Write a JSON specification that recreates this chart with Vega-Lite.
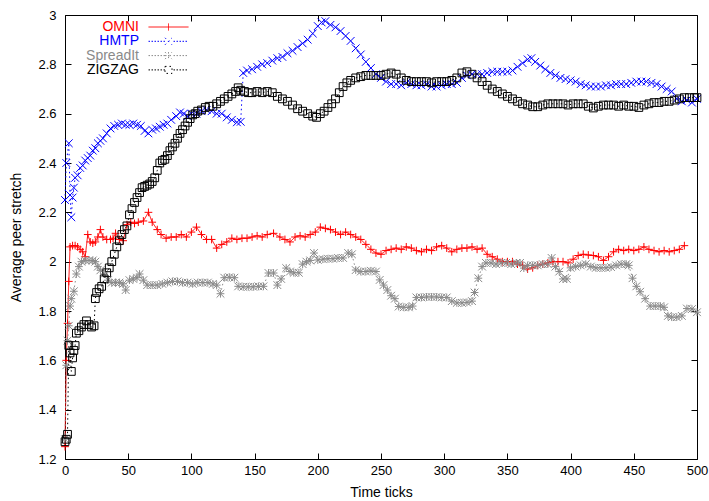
{
  "$schema": "https://vega.github.io/schema/vega-lite/v6.json",
  "width": 632,
  "height": 444,
  "autosize": {"type": "none"},
  "padding": {"left": 65, "top": 15, "right": 12, "bottom": 42},
  "config": {
    "font": "Liberation Sans",
    "view": {"stroke": "black", "strokeWidth": 1},
    "axis": {
      "grid": false,
      "domain": false,
      "tickColor": "black",
      "tickSize": -6,
      "tickWidth": 1,
      "labelColor": "black",
      "labelFont": "Liberation Sans",
      "labelFontSize": 13,
      "titleFont": "Liberation Sans",
      "titleFontSize": 14,
      "titleFontWeight": "normal",
      "titleColor": "black"
    },
    "legend": {
      "orient": "none",
      "legendX": 60,
      "legendY": 5,
      "padding": 0,
      "symbolSize": 64,
      "symbolStrokeWidth": 1,
      "symbolOffset": 36.5,
      "rowPadding": 0.3,
      "labelOffset": -36.5,
      "labelAlign": "right",
      "labelBaseline": "middle",
      "labelFont": "Liberation Sans",
      "labelFontSize": 14,
      "labelLimit": 200
    }
  },
  "data": {
    "values": [
      {"s":"OMNI","t":0,"v":1.25},{"s":"OMNI","t":1,"v":1.6},{"s":"OMNI","t":2,"v":1.75},{"s":"OMNI","t":3,"v":1.92},{"s":"OMNI","t":4,"v":2.06},{"s":"OMNI","t":6,"v":2.065},{"s":"OMNI","t":8,"v":2.065},{"s":"OMNI","t":10,"v":2.06},{"s":"OMNI","t":12,"v":2.05},{"s":"OMNI","t":14,"v":2.04},{"s":"OMNI","t":16,"v":2.02},{"s":"OMNI","t":18,"v":2.11},{"s":"OMNI","t":20,"v":2.08},{"s":"OMNI","t":22,"v":2.075},{"s":"OMNI","t":24,"v":2.08},{"s":"OMNI","t":26,"v":2.1},{"s":"OMNI","t":28,"v":2.13},{"s":"OMNI","t":30,"v":2.1},{"s":"OMNI","t":33,"v":2.09},{"s":"OMNI","t":36,"v":2.09},{"s":"OMNI","t":38,"v":2.095},{"s":"OMNI","t":40,"v":2.115},{"s":"OMNI","t":43,"v":2.09},{"s":"OMNI","t":46,"v":2.085},{"s":"OMNI","t":49,"v":2.15},{"s":"OMNI","t":52,"v":2.16},{"s":"OMNI","t":55,"v":2.155},{"s":"OMNI","t":58,"v":2.16},{"s":"OMNI","t":62,"v":2.165},{"s":"OMNI","t":66,"v":2.2},{"s":"OMNI","t":69,"v":2.16},{"s":"OMNI","t":73,"v":2.13},{"s":"OMNI","t":76,"v":2.11},{"s":"OMNI","t":80,"v":2.095},{"s":"OMNI","t":84,"v":2.1},{"s":"OMNI","t":88,"v":2.1},{"s":"OMNI","t":92,"v":2.11},{"s":"OMNI","t":96,"v":2.1},{"s":"OMNI","t":100,"v":2.12},{"s":"OMNI","t":104,"v":2.14},{"s":"OMNI","t":108,"v":2.11},{"s":"OMNI","t":112,"v":2.09},{"s":"OMNI","t":116,"v":2.09},{"s":"OMNI","t":120,"v":2.055},{"s":"OMNI","t":124,"v":2.07},{"s":"OMNI","t":128,"v":2.08},{"s":"OMNI","t":132,"v":2.095},{"s":"OMNI","t":136,"v":2.09},{"s":"OMNI","t":140,"v":2.095},{"s":"OMNI","t":144,"v":2.095},{"s":"OMNI","t":148,"v":2.1},{"s":"OMNI","t":152,"v":2.105},{"s":"OMNI","t":156,"v":2.1},{"s":"OMNI","t":160,"v":2.11},{"s":"OMNI","t":165,"v":2.115},{"s":"OMNI","t":170,"v":2.1},{"s":"OMNI","t":174,"v":2.09},{"s":"OMNI","t":178,"v":2.08},{"s":"OMNI","t":182,"v":2.1},{"s":"OMNI","t":186,"v":2.105},{"s":"OMNI","t":190,"v":2.1},{"s":"OMNI","t":194,"v":2.11},{"s":"OMNI","t":198,"v":2.12},{"s":"OMNI","t":202,"v":2.14},{"s":"OMNI","t":206,"v":2.135},{"s":"OMNI","t":210,"v":2.13},{"s":"OMNI","t":214,"v":2.12},{"s":"OMNI","t":218,"v":2.11},{"s":"OMNI","t":222,"v":2.12},{"s":"OMNI","t":226,"v":2.11},{"s":"OMNI","t":230,"v":2.1},{"s":"OMNI","t":234,"v":2.09},{"s":"OMNI","t":238,"v":2.07},{"s":"OMNI","t":242,"v":2.05},{"s":"OMNI","t":246,"v":2.035},{"s":"OMNI","t":250,"v":2.03},{"s":"OMNI","t":254,"v":2.045},{"s":"OMNI","t":258,"v":2.05},{"s":"OMNI","t":262,"v":2.055},{"s":"OMNI","t":266,"v":2.05},{"s":"OMNI","t":270,"v":2.06},{"s":"OMNI","t":274,"v":2.055},{"s":"OMNI","t":278,"v":2.045},{"s":"OMNI","t":282,"v":2.04},{"s":"OMNI","t":286,"v":2.05},{"s":"OMNI","t":290,"v":2.045},{"s":"OMNI","t":294,"v":2.06},{"s":"OMNI","t":298,"v":2.065},{"s":"OMNI","t":302,"v":2.055},{"s":"OMNI","t":306,"v":2.04},{"s":"OMNI","t":310,"v":2.05},{"s":"OMNI","t":314,"v":2.055},{"s":"OMNI","t":318,"v":2.055},{"s":"OMNI","t":322,"v":2.06},{"s":"OMNI","t":326,"v":2.05},{"s":"OMNI","t":330,"v":2.055},{"s":"OMNI","t":334,"v":2.03},{"s":"OMNI","t":338,"v":2.02},{"s":"OMNI","t":342,"v":2.01},{"s":"OMNI","t":346,"v":2.0},{"s":"OMNI","t":350,"v":2.0},{"s":"OMNI","t":354,"v":2.0},{"s":"OMNI","t":358,"v":1.99},{"s":"OMNI","t":362,"v":1.985},{"s":"OMNI","t":366,"v":1.97},{"s":"OMNI","t":370,"v":1.975},{"s":"OMNI","t":374,"v":1.985},{"s":"OMNI","t":378,"v":1.99},{"s":"OMNI","t":382,"v":1.995},{"s":"OMNI","t":386,"v":2.0},{"s":"OMNI","t":390,"v":2.0},{"s":"OMNI","t":394,"v":2.0},{"s":"OMNI","t":398,"v":1.995},{"s":"OMNI","t":402,"v":2.01},{"s":"OMNI","t":406,"v":2.025},{"s":"OMNI","t":410,"v":2.03},{"s":"OMNI","t":414,"v":2.027},{"s":"OMNI","t":418,"v":2.025},{"s":"OMNI","t":422,"v":2.02},{"s":"OMNI","t":426,"v":2.005},{"s":"OMNI","t":430,"v":2.02},{"s":"OMNI","t":434,"v":2.04},{"s":"OMNI","t":438,"v":2.05},{"s":"OMNI","t":442,"v":2.045},{"s":"OMNI","t":446,"v":2.05},{"s":"OMNI","t":450,"v":2.045},{"s":"OMNI","t":454,"v":2.05},{"s":"OMNI","t":458,"v":2.06},{"s":"OMNI","t":462,"v":2.05},{"s":"OMNI","t":466,"v":2.045},{"s":"OMNI","t":470,"v":2.04},{"s":"OMNI","t":474,"v":2.045},{"s":"OMNI","t":478,"v":2.04},{"s":"OMNI","t":482,"v":2.045},{"s":"OMNI","t":486,"v":2.05},{"s":"OMNI","t":490,"v":2.065},
      {"s":"HMTP","t":0,"v":2.25},{"s":"HMTP","t":1,"v":2.4},{"s":"HMTP","t":3,"v":2.48},{"s":"HMTP","t":4,"v":2.27},{"s":"HMTP","t":5,"v":2.18},{"s":"HMTP","t":6,"v":2.26},{"s":"HMTP","t":7,"v":2.3},{"s":"HMTP","t":8,"v":2.34},{"s":"HMTP","t":10,"v":2.35},{"s":"HMTP","t":12,"v":2.38},{"s":"HMTP","t":14,"v":2.39},{"s":"HMTP","t":16,"v":2.41},{"s":"HMTP","t":18,"v":2.42},{"s":"HMTP","t":20,"v":2.43},{"s":"HMTP","t":22,"v":2.45},{"s":"HMTP","t":24,"v":2.46},{"s":"HMTP","t":26,"v":2.48},{"s":"HMTP","t":28,"v":2.49},{"s":"HMTP","t":30,"v":2.5},{"s":"HMTP","t":33,"v":2.52},{"s":"HMTP","t":36,"v":2.54},{"s":"HMTP","t":39,"v":2.55},{"s":"HMTP","t":42,"v":2.555},{"s":"HMTP","t":45,"v":2.56},{"s":"HMTP","t":48,"v":2.555},{"s":"HMTP","t":51,"v":2.555},{"s":"HMTP","t":54,"v":2.56},{"s":"HMTP","t":57,"v":2.555},{"s":"HMTP","t":60,"v":2.55},{"s":"HMTP","t":63,"v":2.53},{"s":"HMTP","t":66,"v":2.52},{"s":"HMTP","t":69,"v":2.535},{"s":"HMTP","t":72,"v":2.54},{"s":"HMTP","t":75,"v":2.547},{"s":"HMTP","t":78,"v":2.555},{"s":"HMTP","t":81,"v":2.56},{"s":"HMTP","t":84,"v":2.575},{"s":"HMTP","t":88,"v":2.59},{"s":"HMTP","t":91,"v":2.605},{"s":"HMTP","t":94,"v":2.6},{"s":"HMTP","t":97,"v":2.59},{"s":"HMTP","t":100,"v":2.6},{"s":"HMTP","t":104,"v":2.6},{"s":"HMTP","t":108,"v":2.61},{"s":"HMTP","t":112,"v":2.615},{"s":"HMTP","t":116,"v":2.61},{"s":"HMTP","t":120,"v":2.6},{"s":"HMTP","t":124,"v":2.6},{"s":"HMTP","t":128,"v":2.585},{"s":"HMTP","t":132,"v":2.575},{"s":"HMTP","t":136,"v":2.565},{"s":"HMTP","t":139,"v":2.567},{"s":"HMTP","t":141,"v":2.765},{"s":"HMTP","t":144,"v":2.775},{"s":"HMTP","t":148,"v":2.78},{"s":"HMTP","t":152,"v":2.79},{"s":"HMTP","t":156,"v":2.8},{"s":"HMTP","t":160,"v":2.805},{"s":"HMTP","t":164,"v":2.815},{"s":"HMTP","t":168,"v":2.825},{"s":"HMTP","t":172,"v":2.83},{"s":"HMTP","t":176,"v":2.845},{"s":"HMTP","t":180,"v":2.855},{"s":"HMTP","t":184,"v":2.87},{"s":"HMTP","t":188,"v":2.885},{"s":"HMTP","t":192,"v":2.9},{"s":"HMTP","t":196,"v":2.925},{"s":"HMTP","t":200,"v":2.955},{"s":"HMTP","t":203,"v":2.97},{"s":"HMTP","t":206,"v":2.975},{"s":"HMTP","t":210,"v":2.96},{"s":"HMTP","t":214,"v":2.95},{"s":"HMTP","t":218,"v":2.935},{"s":"HMTP","t":222,"v":2.915},{"s":"HMTP","t":226,"v":2.895},{"s":"HMTP","t":230,"v":2.865},{"s":"HMTP","t":234,"v":2.84},{"s":"HMTP","t":238,"v":2.81},{"s":"HMTP","t":242,"v":2.785},{"s":"HMTP","t":246,"v":2.76},{"s":"HMTP","t":250,"v":2.745},{"s":"HMTP","t":254,"v":2.73},{"s":"HMTP","t":258,"v":2.72},{"s":"HMTP","t":262,"v":2.72},{"s":"HMTP","t":266,"v":2.715},{"s":"HMTP","t":270,"v":2.725},{"s":"HMTP","t":274,"v":2.72},{"s":"HMTP","t":278,"v":2.715},{"s":"HMTP","t":282,"v":2.715},{"s":"HMTP","t":286,"v":2.72},{"s":"HMTP","t":290,"v":2.71},{"s":"HMTP","t":294,"v":2.71},{"s":"HMTP","t":298,"v":2.715},{"s":"HMTP","t":302,"v":2.72},{"s":"HMTP","t":306,"v":2.72},{"s":"HMTP","t":310,"v":2.725},{"s":"HMTP","t":314,"v":2.745},{"s":"HMTP","t":318,"v":2.755},{"s":"HMTP","t":322,"v":2.76},{"s":"HMTP","t":326,"v":2.76},{"s":"HMTP","t":330,"v":2.76},{"s":"HMTP","t":334,"v":2.765},{"s":"HMTP","t":338,"v":2.77},{"s":"HMTP","t":342,"v":2.77},{"s":"HMTP","t":346,"v":2.77},{"s":"HMTP","t":350,"v":2.77},{"s":"HMTP","t":354,"v":2.775},{"s":"HMTP","t":358,"v":2.79},{"s":"HMTP","t":362,"v":2.805},{"s":"HMTP","t":366,"v":2.82},{"s":"HMTP","t":369,"v":2.825},{"s":"HMTP","t":372,"v":2.81},{"s":"HMTP","t":376,"v":2.795},{"s":"HMTP","t":380,"v":2.78},{"s":"HMTP","t":384,"v":2.765},{"s":"HMTP","t":388,"v":2.755},{"s":"HMTP","t":392,"v":2.745},{"s":"HMTP","t":396,"v":2.74},{"s":"HMTP","t":400,"v":2.735},{"s":"HMTP","t":404,"v":2.73},{"s":"HMTP","t":408,"v":2.72},{"s":"HMTP","t":412,"v":2.715},{"s":"HMTP","t":416,"v":2.71},{"s":"HMTP","t":420,"v":2.71},{"s":"HMTP","t":424,"v":2.71},{"s":"HMTP","t":428,"v":2.715},{"s":"HMTP","t":432,"v":2.715},{"s":"HMTP","t":436,"v":2.72},{"s":"HMTP","t":440,"v":2.72},{"s":"HMTP","t":444,"v":2.72},{"s":"HMTP","t":448,"v":2.725},{"s":"HMTP","t":452,"v":2.73},{"s":"HMTP","t":456,"v":2.73},{"s":"HMTP","t":460,"v":2.73},{"s":"HMTP","t":464,"v":2.725},{"s":"HMTP","t":468,"v":2.72},{"s":"HMTP","t":472,"v":2.71},{"s":"HMTP","t":476,"v":2.7},{"s":"HMTP","t":480,"v":2.69},{"s":"HMTP","t":484,"v":2.66},{"s":"HMTP","t":488,"v":2.65},{"s":"HMTP","t":492,"v":2.655},{"s":"HMTP","t":496,"v":2.645},{"s":"HMTP","t":500,"v":2.66},
      {"s":"SpreadIt","t":0,"v":1.28},{"s":"SpreadIt","t":1,"v":1.58},{"s":"SpreadIt","t":2,"v":1.68},{"s":"SpreadIt","t":3,"v":1.74},{"s":"SpreadIt","t":4,"v":1.82},{"s":"SpreadIt","t":5,"v":1.85},{"s":"SpreadIt","t":7,"v":1.88},{"s":"SpreadIt","t":9,"v":1.95},{"s":"SpreadIt","t":11,"v":1.98},{"s":"SpreadIt","t":13,"v":2.0},{"s":"SpreadIt","t":16,"v":2.005},{"s":"SpreadIt","t":19,"v":2.005},{"s":"SpreadIt","t":22,"v":2.005},{"s":"SpreadIt","t":24,"v":2.0},{"s":"SpreadIt","t":26,"v":1.98},{"s":"SpreadIt","t":28,"v":1.965},{"s":"SpreadIt","t":31,"v":1.95},{"s":"SpreadIt","t":34,"v":1.925},{"s":"SpreadIt","t":37,"v":1.915},{"s":"SpreadIt","t":40,"v":1.915},{"s":"SpreadIt","t":43,"v":1.915},{"s":"SpreadIt","t":46,"v":1.91},{"s":"SpreadIt","t":48,"v":1.885},{"s":"SpreadIt","t":51,"v":1.925},{"s":"SpreadIt","t":54,"v":1.93},{"s":"SpreadIt","t":57,"v":1.935},{"s":"SpreadIt","t":59,"v":1.95},{"s":"SpreadIt","t":62,"v":1.925},{"s":"SpreadIt","t":65,"v":1.905},{"s":"SpreadIt","t":69,"v":1.905},{"s":"SpreadIt","t":73,"v":1.905},{"s":"SpreadIt","t":77,"v":1.91},{"s":"SpreadIt","t":81,"v":1.915},{"s":"SpreadIt","t":85,"v":1.92},{"s":"SpreadIt","t":89,"v":1.92},{"s":"SpreadIt","t":93,"v":1.915},{"s":"SpreadIt","t":97,"v":1.915},{"s":"SpreadIt","t":101,"v":1.91},{"s":"SpreadIt","t":105,"v":1.915},{"s":"SpreadIt","t":109,"v":1.915},{"s":"SpreadIt","t":113,"v":1.915},{"s":"SpreadIt","t":117,"v":1.91},{"s":"SpreadIt","t":120,"v":1.905},{"s":"SpreadIt","t":123,"v":1.87},{"s":"SpreadIt","t":126,"v":1.935},{"s":"SpreadIt","t":130,"v":1.937},{"s":"SpreadIt","t":134,"v":1.935},{"s":"SpreadIt","t":137,"v":1.9},{"s":"SpreadIt","t":141,"v":1.898},{"s":"SpreadIt","t":145,"v":1.898},{"s":"SpreadIt","t":149,"v":1.898},{"s":"SpreadIt","t":153,"v":1.9},{"s":"SpreadIt","t":157,"v":1.9},{"s":"SpreadIt","t":161,"v":1.954},{"s":"SpreadIt","t":165,"v":1.954},{"s":"SpreadIt","t":168,"v":1.905},{"s":"SpreadIt","t":171,"v":1.93},{"s":"SpreadIt","t":175,"v":1.974},{"s":"SpreadIt","t":178,"v":1.96},{"s":"SpreadIt","t":181,"v":1.955},{"s":"SpreadIt","t":185,"v":1.955},{"s":"SpreadIt","t":188,"v":1.99},{"s":"SpreadIt","t":191,"v":2.0},{"s":"SpreadIt","t":194,"v":2.005},{"s":"SpreadIt","t":197,"v":2.035},{"s":"SpreadIt","t":200,"v":2.007},{"s":"SpreadIt","t":204,"v":2.01},{"s":"SpreadIt","t":208,"v":2.012},{"s":"SpreadIt","t":212,"v":2.012},{"s":"SpreadIt","t":216,"v":2.015},{"s":"SpreadIt","t":220,"v":2.015},{"s":"SpreadIt","t":224,"v":2.035},{"s":"SpreadIt","t":227,"v":2.03},{"s":"SpreadIt","t":230,"v":1.966},{"s":"SpreadIt","t":234,"v":1.96},{"s":"SpreadIt","t":238,"v":1.96},{"s":"SpreadIt","t":242,"v":1.963},{"s":"SpreadIt","t":246,"v":1.96},{"s":"SpreadIt","t":249,"v":1.926},{"s":"SpreadIt","t":252,"v":1.905},{"s":"SpreadIt","t":255,"v":1.885},{"s":"SpreadIt","t":258,"v":1.862},{"s":"SpreadIt","t":261,"v":1.85},{"s":"SpreadIt","t":264,"v":1.818},{"s":"SpreadIt","t":268,"v":1.815},{"s":"SpreadIt","t":272,"v":1.815},{"s":"SpreadIt","t":275,"v":1.82},{"s":"SpreadIt","t":278,"v":1.855},{"s":"SpreadIt","t":282,"v":1.855},{"s":"SpreadIt","t":286,"v":1.857},{"s":"SpreadIt","t":290,"v":1.857},{"s":"SpreadIt","t":294,"v":1.857},{"s":"SpreadIt","t":298,"v":1.855},{"s":"SpreadIt","t":302,"v":1.855},{"s":"SpreadIt","t":306,"v":1.84},{"s":"SpreadIt","t":310,"v":1.833},{"s":"SpreadIt","t":314,"v":1.833},{"s":"SpreadIt","t":318,"v":1.835},{"s":"SpreadIt","t":322,"v":1.84},{"s":"SpreadIt","t":324,"v":1.875},{"s":"SpreadIt","t":327,"v":1.933},{"s":"SpreadIt","t":330,"v":1.98},{"s":"SpreadIt","t":333,"v":1.995},{"s":"SpreadIt","t":337,"v":1.995},{"s":"SpreadIt","t":341,"v":1.99},{"s":"SpreadIt","t":345,"v":1.995},{"s":"SpreadIt","t":349,"v":1.995},{"s":"SpreadIt","t":353,"v":1.99},{"s":"SpreadIt","t":357,"v":1.995},{"s":"SpreadIt","t":360,"v":1.995},{"s":"SpreadIt","t":363,"v":1.974},{"s":"SpreadIt","t":366,"v":1.985},{"s":"SpreadIt","t":370,"v":1.985},{"s":"SpreadIt","t":374,"v":1.985},{"s":"SpreadIt","t":378,"v":1.99},{"s":"SpreadIt","t":382,"v":1.99},{"s":"SpreadIt","t":385,"v":2.015},{"s":"SpreadIt","t":388,"v":1.98},{"s":"SpreadIt","t":391,"v":1.96},{"s":"SpreadIt","t":394,"v":1.93},{"s":"SpreadIt","t":397,"v":1.93},{"s":"SpreadIt","t":400,"v":1.975},{"s":"SpreadIt","t":404,"v":1.98},{"s":"SpreadIt","t":408,"v":1.985},{"s":"SpreadIt","t":412,"v":1.99},{"s":"SpreadIt","t":416,"v":1.98},{"s":"SpreadIt","t":420,"v":1.975},{"s":"SpreadIt","t":424,"v":1.975},{"s":"SpreadIt","t":428,"v":1.975},{"s":"SpreadIt","t":432,"v":1.978},{"s":"SpreadIt","t":436,"v":1.985},{"s":"SpreadIt","t":440,"v":1.99},{"s":"SpreadIt","t":444,"v":1.99},{"s":"SpreadIt","t":446,"v":1.985},{"s":"SpreadIt","t":449,"v":1.933},{"s":"SpreadIt","t":452,"v":1.9},{"s":"SpreadIt","t":455,"v":1.878},{"s":"SpreadIt","t":459,"v":1.85},{"s":"SpreadIt","t":463,"v":1.82},{"s":"SpreadIt","t":467,"v":1.82},{"s":"SpreadIt","t":471,"v":1.82},{"s":"SpreadIt","t":474,"v":1.815},{"s":"SpreadIt","t":477,"v":1.78},{"s":"SpreadIt","t":480,"v":1.775},{"s":"SpreadIt","t":484,"v":1.775},{"s":"SpreadIt","t":488,"v":1.78},{"s":"SpreadIt","t":492,"v":1.81},{"s":"SpreadIt","t":496,"v":1.808},{"s":"SpreadIt","t":500,"v":1.795},
      {"s":"ZIGZAG","t":0,"v":1.27},{"s":"ZIGZAG","t":1,"v":1.28},{"s":"ZIGZAG","t":2,"v":1.3},{"s":"ZIGZAG","t":3,"v":1.66},{"s":"ZIGZAG","t":4,"v":1.63},{"s":"ZIGZAG","t":5,"v":1.555},{"s":"ZIGZAG","t":6,"v":1.61},{"s":"ZIGZAG","t":7,"v":1.64},{"s":"ZIGZAG","t":8,"v":1.66},{"s":"ZIGZAG","t":9,"v":1.71},{"s":"ZIGZAG","t":11,"v":1.72},{"s":"ZIGZAG","t":13,"v":1.735},{"s":"ZIGZAG","t":15,"v":1.745},{"s":"ZIGZAG","t":17,"v":1.76},{"s":"ZIGZAG","t":19,"v":1.745},{"s":"ZIGZAG","t":21,"v":1.735},{"s":"ZIGZAG","t":23,"v":1.74},{"s":"ZIGZAG","t":24,"v":1.85},{"s":"ZIGZAG","t":25,"v":1.875},{"s":"ZIGZAG","t":27,"v":1.89},{"s":"ZIGZAG","t":29,"v":1.9},{"s":"ZIGZAG","t":31,"v":1.93},{"s":"ZIGZAG","t":33,"v":1.955},{"s":"ZIGZAG","t":35,"v":1.975},{"s":"ZIGZAG","t":37,"v":2.0},{"s":"ZIGZAG","t":39,"v":2.03},{"s":"ZIGZAG","t":41,"v":2.06},{"s":"ZIGZAG","t":43,"v":2.085},{"s":"ZIGZAG","t":45,"v":2.11},{"s":"ZIGZAG","t":47,"v":2.13},{"s":"ZIGZAG","t":49,"v":2.145},{"s":"ZIGZAG","t":51,"v":2.19},{"s":"ZIGZAG","t":53,"v":2.215},{"s":"ZIGZAG","t":55,"v":2.24},{"s":"ZIGZAG","t":57,"v":2.26},{"s":"ZIGZAG","t":59,"v":2.28},{"s":"ZIGZAG","t":61,"v":2.3},{"s":"ZIGZAG","t":63,"v":2.305},{"s":"ZIGZAG","t":65,"v":2.31},{"s":"ZIGZAG","t":67,"v":2.315},{"s":"ZIGZAG","t":69,"v":2.325},{"s":"ZIGZAG","t":71,"v":2.34},{"s":"ZIGZAG","t":73,"v":2.37},{"s":"ZIGZAG","t":75,"v":2.4},{"s":"ZIGZAG","t":77,"v":2.41},{"s":"ZIGZAG","t":79,"v":2.415},{"s":"ZIGZAG","t":81,"v":2.43},{"s":"ZIGZAG","t":83,"v":2.45},{"s":"ZIGZAG","t":85,"v":2.465},{"s":"ZIGZAG","t":87,"v":2.48},{"s":"ZIGZAG","t":89,"v":2.5},{"s":"ZIGZAG","t":91,"v":2.52},{"s":"ZIGZAG","t":93,"v":2.535},{"s":"ZIGZAG","t":95,"v":2.55},{"s":"ZIGZAG","t":97,"v":2.565},{"s":"ZIGZAG","t":99,"v":2.58},{"s":"ZIGZAG","t":101,"v":2.595},{"s":"ZIGZAG","t":103,"v":2.6},{"s":"ZIGZAG","t":105,"v":2.61},{"s":"ZIGZAG","t":108,"v":2.615},{"s":"ZIGZAG","t":111,"v":2.625},{"s":"ZIGZAG","t":114,"v":2.63},{"s":"ZIGZAG","t":117,"v":2.63},{"s":"ZIGZAG","t":120,"v":2.64},{"s":"ZIGZAG","t":123,"v":2.65},{"s":"ZIGZAG","t":126,"v":2.66},{"s":"ZIGZAG","t":129,"v":2.67},{"s":"ZIGZAG","t":132,"v":2.68},{"s":"ZIGZAG","t":135,"v":2.69},{"s":"ZIGZAG","t":137,"v":2.705},{"s":"ZIGZAG","t":139,"v":2.695},{"s":"ZIGZAG","t":142,"v":2.69},{"s":"ZIGZAG","t":145,"v":2.685},{"s":"ZIGZAG","t":148,"v":2.685},{"s":"ZIGZAG","t":152,"v":2.69},{"s":"ZIGZAG","t":156,"v":2.685},{"s":"ZIGZAG","t":160,"v":2.69},{"s":"ZIGZAG","t":164,"v":2.685},{"s":"ZIGZAG","t":168,"v":2.67},{"s":"ZIGZAG","t":172,"v":2.66},{"s":"ZIGZAG","t":176,"v":2.65},{"s":"ZIGZAG","t":180,"v":2.635},{"s":"ZIGZAG","t":184,"v":2.62},{"s":"ZIGZAG","t":188,"v":2.61},{"s":"ZIGZAG","t":192,"v":2.6},{"s":"ZIGZAG","t":196,"v":2.59},{"s":"ZIGZAG","t":199,"v":2.585},{"s":"ZIGZAG","t":202,"v":2.6},{"s":"ZIGZAG","t":205,"v":2.61},{"s":"ZIGZAG","t":208,"v":2.625},{"s":"ZIGZAG","t":211,"v":2.64},{"s":"ZIGZAG","t":214,"v":2.66},{"s":"ZIGZAG","t":217,"v":2.685},{"s":"ZIGZAG","t":220,"v":2.71},{"s":"ZIGZAG","t":223,"v":2.725},{"s":"ZIGZAG","t":226,"v":2.735},{"s":"ZIGZAG","t":230,"v":2.745},{"s":"ZIGZAG","t":234,"v":2.75},{"s":"ZIGZAG","t":238,"v":2.755},{"s":"ZIGZAG","t":242,"v":2.755},{"s":"ZIGZAG","t":246,"v":2.755},{"s":"ZIGZAG","t":250,"v":2.755},{"s":"ZIGZAG","t":254,"v":2.76},{"s":"ZIGZAG","t":258,"v":2.765},{"s":"ZIGZAG","t":262,"v":2.76},{"s":"ZIGZAG","t":266,"v":2.745},{"s":"ZIGZAG","t":270,"v":2.735},{"s":"ZIGZAG","t":274,"v":2.73},{"s":"ZIGZAG","t":278,"v":2.73},{"s":"ZIGZAG","t":282,"v":2.73},{"s":"ZIGZAG","t":286,"v":2.73},{"s":"ZIGZAG","t":290,"v":2.725},{"s":"ZIGZAG","t":294,"v":2.73},{"s":"ZIGZAG","t":298,"v":2.73},{"s":"ZIGZAG","t":302,"v":2.73},{"s":"ZIGZAG","t":306,"v":2.735},{"s":"ZIGZAG","t":310,"v":2.745},{"s":"ZIGZAG","t":314,"v":2.765},{"s":"ZIGZAG","t":318,"v":2.77},{"s":"ZIGZAG","t":322,"v":2.76},{"s":"ZIGZAG","t":326,"v":2.745},{"s":"ZIGZAG","t":330,"v":2.73},{"s":"ZIGZAG","t":334,"v":2.715},{"s":"ZIGZAG","t":338,"v":2.7},{"s":"ZIGZAG","t":342,"v":2.69},{"s":"ZIGZAG","t":346,"v":2.68},{"s":"ZIGZAG","t":350,"v":2.67},{"s":"ZIGZAG","t":354,"v":2.66},{"s":"ZIGZAG","t":358,"v":2.65},{"s":"ZIGZAG","t":362,"v":2.64},{"s":"ZIGZAG","t":366,"v":2.635},{"s":"ZIGZAG","t":370,"v":2.628},{"s":"ZIGZAG","t":374,"v":2.628},{"s":"ZIGZAG","t":378,"v":2.635},{"s":"ZIGZAG","t":382,"v":2.64},{"s":"ZIGZAG","t":386,"v":2.64},{"s":"ZIGZAG","t":390,"v":2.64},{"s":"ZIGZAG","t":394,"v":2.64},{"s":"ZIGZAG","t":398,"v":2.635},{"s":"ZIGZAG","t":402,"v":2.64},{"s":"ZIGZAG","t":406,"v":2.64},{"s":"ZIGZAG","t":410,"v":2.64},{"s":"ZIGZAG","t":414,"v":2.63},{"s":"ZIGZAG","t":418,"v":2.623},{"s":"ZIGZAG","t":422,"v":2.63},{"s":"ZIGZAG","t":426,"v":2.635},{"s":"ZIGZAG","t":430,"v":2.635},{"s":"ZIGZAG","t":434,"v":2.635},{"s":"ZIGZAG","t":438,"v":2.63},{"s":"ZIGZAG","t":442,"v":2.635},{"s":"ZIGZAG","t":446,"v":2.63},{"s":"ZIGZAG","t":450,"v":2.63},{"s":"ZIGZAG","t":454,"v":2.625},{"s":"ZIGZAG","t":458,"v":2.635},{"s":"ZIGZAG","t":462,"v":2.64},{"s":"ZIGZAG","t":466,"v":2.645},{"s":"ZIGZAG","t":470,"v":2.645},{"s":"ZIGZAG","t":474,"v":2.65},{"s":"ZIGZAG","t":478,"v":2.65},{"s":"ZIGZAG","t":482,"v":2.655},{"s":"ZIGZAG","t":486,"v":2.66},{"s":"ZIGZAG","t":490,"v":2.665},{"s":"ZIGZAG","t":494,"v":2.665},{"s":"ZIGZAG","t":498,"v":2.665},{"s":"ZIGZAG","t":500,"v":2.665}
    ]
  },
  "layer": [
    {
      "mark": {"type": "line", "strokeWidth": 1},
      "encoding": {
        "x": {
          "field": "t", "type": "quantitative",
          "scale": {"domain": [0, 500], "nice": false, "zero": false},
          "axis": {"orient": "bottom", "title": "Time ticks", "values": [0, 50, 100, 150, 200, 250, 300, 350, 400, 450, 500], "labelPadding": 11, "titlePadding": 8, "labelFlush": false}
        },
        "y": {
          "field": "v", "type": "quantitative",
          "scale": {"domain": [1.2, 3], "nice": false, "zero": false},
          "axis": {"orient": "left", "title": "Average peer stretch", "values": [1.2, 1.4, 1.6, 1.8, 2, 2.2, 2.4, 2.6, 2.8, 3], "format": "~g", "labelPadding": 15, "titlePadding": 14, "labelFlush": false}
        },
        "color": {
          "field": "s", "type": "nominal",
          "scale": {"domain": ["OMNI", "HMTP", "SpreadIt", "ZIGZAG"], "range": ["#ff0000", "#0000ff", "#8a8a8a", "#000000"]},
          "legend": {
            "title": null,
            "encode": {
              "symbols": {
                "update": {
                  "shape": {"signal": "datum.value === 'OMNI' ? 'M-5,0L5,0M0,-0.875L0,0.875' : datum.value === 'HMTP' ? 'M-5,0L-4.6,0M-4.25,0L-3.85,0M-3.5,0L-3.1,0M-2.75,0L-2.35,0M-2,0L-1.6,0M-1.25,0L-0.85,0M1.25,0L1.65,0M2,0L2.4,0M2.75,0L3.15,0M3.5,0L3.9,0M4.25,0L4.65,0M-0.875,-0.875L0.875,0.875M-0.875,0.875L0.875,-0.875' : datum.value === 'SpreadIt' ? 'M-5,0L-4.6,0M-4.25,0L-3.85,0M-3.5,0L-3.1,0M-2.75,0L-2.35,0M-2,0L-1.6,0M-1.25,0L-0.85,0M1.25,0L1.65,0M2,0L2.4,0M2.75,0L3.15,0M3.5,0L3.9,0M4.25,0L4.65,0M-0.875,0L0.875,0M0,-0.875L0,0.875M-0.875,-0.875L0.875,0.875M-0.875,0.875L0.875,-0.875' : 'M-5,0L-4.6,0M-4.25,0L-3.85,0M-3.5,0L-3.1,0M-2.75,0L-2.35,0M-2,0L-1.6,0M-1.25,0L-0.85,0M1.25,0L1.65,0M2,0L2.4,0M2.75,0L3.15,0M3.5,0L3.9,0M4.25,0L4.65,0M-0.875,-0.875L0.875,-0.875L0.875,0.875L-0.875,0.875Z'"},
                  "stroke": {"scale": "color", "field": "value"},
                  "fill": {"value": "transparent"},
                  "strokeWidth": {"value": 1},
                  "strokeDash": {"value": [1, 0]},
                  "opacity": {"value": 1}
                }
              },
              "labels": {
                "update": {
                  "fill": {"scale": "color", "field": "value"}
                }
              }
            }
          }
        },
        "strokeDash": {
          "field": "s", "type": "nominal",
          "scale": {"domain": ["OMNI", "HMTP", "SpreadIt", "ZIGZAG"], "range": [[1, 0], [1.5, 3], [1.5, 3], [1.5, 3]]},
          "legend": null
        }
      }
    },
    {
      "transform": [{"filter": "datum.s === 'OMNI'"}],
      "mark": {"type": "point", "filled": false, "strokeWidth": 1, "size": 60, "opacity": 1, "shape": "M-1,0L1,0M0,-1L0,1", "color": "#ff0000"},
      "encoding": {
        "x": {
          "field": "t", "type": "quantitative",
          "axis": {"orient": "top", "title": null, "labels": false, "values": [0, 50, 100, 150, 200, 250, 300, 350, 400, 450, 500]}
        },
        "y": {
          "field": "v", "type": "quantitative",
          "axis": {"orient": "right", "title": null, "labels": false, "values": [1.2, 1.4, 1.6, 1.8, 2, 2.2, 2.4, 2.6, 2.8, 3]}
        }
      }
    },
    {
      "transform": [{"filter": "datum.s === 'HMTP'"}],
      "mark": {"type": "point", "filled": false, "strokeWidth": 1, "size": 60, "opacity": 1, "shape": "M-1,-1L1,1M-1,1L1,-1", "color": "#0000ff"},
      "encoding": {
        "x": {"field": "t", "type": "quantitative", "axis": null},
        "y": {"field": "v", "type": "quantitative", "axis": null}
      }
    },
    {
      "transform": [{"filter": "datum.s === 'SpreadIt'"}],
      "mark": {"type": "point", "filled": false, "strokeWidth": 1, "size": 60, "opacity": 1, "shape": "M-1,0L1,0M0,-1L0,1M-1,-1L1,1M-1,1L1,-1", "color": "#8a8a8a"},
      "encoding": {
        "x": {"field": "t", "type": "quantitative", "axis": null},
        "y": {"field": "v", "type": "quantitative", "axis": null}
      }
    },
    {
      "transform": [{"filter": "datum.s === 'ZIGZAG'"}],
      "mark": {"type": "point", "filled": false, "strokeWidth": 1, "size": 60, "opacity": 1, "shape": "M-1,-1L1,-1L1,1L-1,1Z", "color": "#000000"},
      "encoding": {
        "x": {"field": "t", "type": "quantitative", "axis": null},
        "y": {"field": "v", "type": "quantitative", "axis": null}
      }
    }
  ],
  "resolve": {"axis": {"x": "independent", "y": "independent"}}
}
